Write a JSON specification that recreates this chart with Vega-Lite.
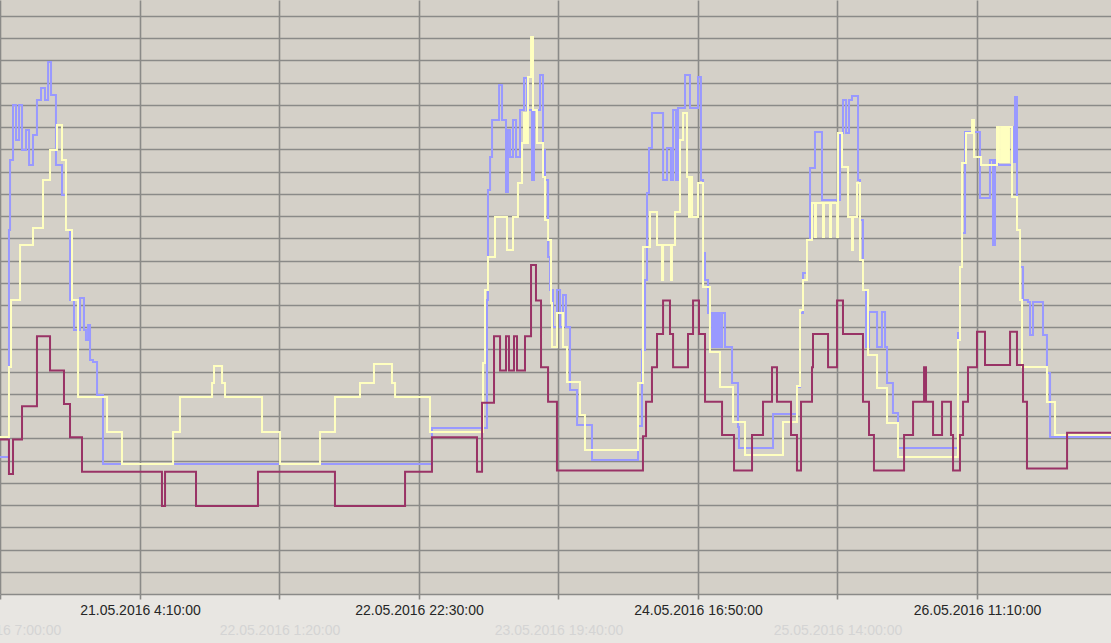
{
  "$schema": "https://vega.github.io/schema/vega-lite/v6.json",
  "width": 1111,
  "height": 594,
  "padding": {"left": 0, "top": 0, "right": 0, "bottom": 49},
  "autosize": {"type": "none"},
  "background": "#e8e6e2",
  "config": {"view": {"fill": "#d4d0c8", "stroke": null}},
  "datasets": {
    "maroon": [
      {"m": -5, "v": 6.95}, {"m": 77, "v": 5.4}, {"m": 114, "v": 6.95}, {"m": 196, "v": 8.45}, {"m": 332, "v": 11.6}, {"m": 451, "v": 10.05}, {"m": 578, "v": 8.55}, {"m": 633, "v": 7.05}, {"m": 742, "v": 5.5},
      {"m": 1470, "v": 3.96}, {"m": 1498, "v": 5.5}, {"m": 1780, "v": 3.96}, {"m": 2344, "v": 5.5}, {"m": 3045, "v": 3.96}, {"m": 3683, "v": 5.5}, {"m": 3928, "v": 7.05}, {"m": 4338, "v": 5.5}, {"m": 4384, "v": 8.6},
      {"m": 4493, "v": 11.6}, {"m": 4548, "v": 10.05}, {"m": 4602, "v": 11.6}, {"m": 4629, "v": 10.05}, {"m": 4675, "v": 11.6}, {"m": 4702, "v": 10.05}, {"m": 4775, "v": 11.6}, {"m": 4830, "v": 14.8}, {"m": 4875, "v": 13.2},
      {"m": 4921, "v": 10.2}, {"m": 4985, "v": 8.65}, {"m": 5066, "v": 5.55}, {"m": 5849, "v": 7.1}, {"m": 5877, "v": 8.65}, {"m": 5931, "v": 10.2}, {"m": 5977, "v": 11.7}, {"m": 6032, "v": 13.2}, {"m": 6095, "v": 11.7},
      {"m": 6123, "v": 10.2}, {"m": 6259, "v": 11.7}, {"m": 6305, "v": 13.2}, {"m": 6359, "v": 11.7}, {"m": 6414, "v": 8.65}, {"m": 6569, "v": 7.15}, {"m": 6678, "v": 5.55}, {"m": 6842, "v": 7.15}, {"m": 6942, "v": 8.65},
      {"m": 7024, "v": 10.2}, {"m": 7069, "v": 8.65}, {"m": 7197, "v": 7.15}, {"m": 7251, "v": 5.55}, {"m": 7288, "v": 8.65}, {"m": 7388, "v": 10.2}, {"m": 7397, "v": 11.7}, {"m": 7534, "v": 10.2}, {"m": 7616, "v": 13.2},
      {"m": 7670, "v": 11.7}, {"m": 7852, "v": 8.65}, {"m": 7907, "v": 7.15}, {"m": 7952, "v": 5.55}, {"m": 8226, "v": 7.15}, {"m": 8308, "v": 8.65}, {"m": 8408, "v": 10.2}, {"m": 8426, "v": 8.65}, {"m": 8490, "v": 7.15},
      {"m": 8572, "v": 8.65}, {"m": 8653, "v": 7.15}, {"m": 8672, "v": 5.55}, {"m": 8735, "v": 7.15}, {"m": 8763, "v": 8.65}, {"m": 8808, "v": 10.2}, {"m": 8890, "v": 11.8}, {"m": 8963, "v": 10.3}, {"m": 9191, "v": 11.8},
      {"m": 9254, "v": 10.3}, {"m": 9309, "v": 8.65}, {"m": 9345, "v": 5.65}, {"m": 9710, "v": 7.25}, {"m": 10120, "v": 7.25}
    ],
    "blue": [
      {"m": -5, "v": 6.16}, {"m": 77, "v": 16.37}, {"m": 87, "v": 19.52}, {"m": 114, "v": 22.0}, {"m": 141, "v": 20.42}, {"m": 169, "v": 22.0}, {"m": 196, "v": 19.97}, {"m": 232, "v": 20.87}, {"m": 260, "v": 19.3},
      {"m": 296, "v": 20.65}, {"m": 332, "v": 22.22}, {"m": 369, "v": 22.76}, {"m": 405, "v": 22.22}, {"m": 433, "v": 23.93}, {"m": 460, "v": 22.45}, {"m": 505, "v": 19.3}, {"m": 560, "v": 17.95}, {"m": 596, "v": 16.37},
      {"m": 633, "v": 13.23}, {"m": 669, "v": 11.88}, {"m": 724, "v": 13.32}, {"m": 760, "v": 11.88}, {"m": 778, "v": 11.43}, {"m": 797, "v": 12.1}, {"m": 815, "v": 10.53}, {"m": 842, "v": 10.44}, {"m": 879, "v": 8.95},
      {"m": 933, "v": 5.85}, {"m": 3928, "v": 7.47}, {"m": 4429, "v": 13.23}, {"m": 4438, "v": 18.17}, {"m": 4457, "v": 19.66}, {"m": 4475, "v": 21.32}, {"m": 4539, "v": 22.9}, {"m": 4566, "v": 21.32}, {"m": 4602, "v": 18.08},
      {"m": 4620, "v": 20.87}, {"m": 4639, "v": 19.66}, {"m": 4666, "v": 21.32}, {"m": 4693, "v": 19.66}, {"m": 4730, "v": 21.77}, {"m": 4766, "v": 23.21}, {"m": 4793, "v": 21.77}, {"m": 4839, "v": 18.62}, {"m": 4857, "v": 21.77},
      {"m": 4912, "v": 23.35}, {"m": 4939, "v": 19.97}, {"m": 4957, "v": 18.62}, {"m": 4985, "v": 15.16}, {"m": 5003, "v": 13.68}, {"m": 5030, "v": 12.01}, {"m": 5066, "v": 13.68}, {"m": 5094, "v": 12.01}, {"m": 5121, "v": 13.45},
      {"m": 5148, "v": 12.01}, {"m": 5185, "v": 9.18}, {"m": 5249, "v": 7.6}, {"m": 5385, "v": 6.03}, {"m": 5804, "v": 7.56}, {"m": 5840, "v": 10.98}, {"m": 5868, "v": 14.13}, {"m": 5886, "v": 18.04}, {"m": 5904, "v": 20.06},
      {"m": 5931, "v": 21.64}, {"m": 6032, "v": 18.62}, {"m": 6068, "v": 20.06}, {"m": 6104, "v": 18.62}, {"m": 6123, "v": 21.77}, {"m": 6150, "v": 18.62}, {"m": 6168, "v": 21.86}, {"m": 6232, "v": 23.35}, {"m": 6277, "v": 21.86},
      {"m": 6350, "v": 23.26}, {"m": 6377, "v": 18.62}, {"m": 6396, "v": 15.34}, {"m": 6414, "v": 14.13}, {"m": 6441, "v": 12.64}, {"m": 6478, "v": 11.11}, {"m": 6496, "v": 12.64}, {"m": 6514, "v": 11.11}, {"m": 6532, "v": 12.64},
      {"m": 6550, "v": 11.11}, {"m": 6569, "v": 12.64}, {"m": 6596, "v": 11.11}, {"m": 6660, "v": 9.49}, {"m": 6714, "v": 7.51}, {"m": 6723, "v": 6.57}, {"m": 7033, "v": 8.1}, {"m": 7251, "v": 9.31}, {"m": 7279, "v": 12.64},
      {"m": 7306, "v": 14.44}, {"m": 7342, "v": 15.92}, {"m": 7370, "v": 19.16}, {"m": 7415, "v": 20.78}, {"m": 7479, "v": 17.72}, {"m": 7643, "v": 20.74}, {"m": 7670, "v": 22.22}, {"m": 7698, "v": 20.74}, {"m": 7725, "v": 22.22},
      {"m": 7752, "v": 22.4}, {"m": 7807, "v": 18.62}, {"m": 7825, "v": 16.82}, {"m": 7852, "v": 13.68}, {"m": 7880, "v": 11.11}, {"m": 7907, "v": 12.69}, {"m": 7980, "v": 11.11}, {"m": 8025, "v": 12.69}, {"m": 8053, "v": 11.11},
      {"m": 8071, "v": 9.49}, {"m": 8125, "v": 8.14}, {"m": 8171, "v": 6.57}, {"m": 8717, "v": 11.74}, {"m": 8735, "v": 14.71}, {"m": 8754, "v": 16.24}, {"m": 8781, "v": 20.78}, {"m": 8917, "v": 17.81}, {"m": 9008, "v": 19.52},
      {"m": 9036, "v": 15.7}, {"m": 9054, "v": 19.52}, {"m": 9081, "v": 19.3}, {"m": 9209, "v": 21.01}, {"m": 9227, "v": 19.43}, {"m": 9236, "v": 22.36}, {"m": 9254, "v": 16.37}, {"m": 9282, "v": 14.71}, {"m": 9309, "v": 13.23},
      {"m": 9354, "v": 13.14}, {"m": 9373, "v": 11.65}, {"m": 9400, "v": 13.14}, {"m": 9491, "v": 11.65}, {"m": 9527, "v": 9.94}, {"m": 9555, "v": 7.06}, {"m": 10120, "v": 7.06}
    ],
    "yellow": [
      {"m": -5, "v": 7.06}, {"m": 77, "v": 10.21}, {"m": 96, "v": 13.23}, {"m": 178, "v": 15.7}, {"m": 296, "v": 16.46}, {"m": 387, "v": 18.62}, {"m": 451, "v": 19.97}, {"m": 514, "v": 21.1}, {"m": 560, "v": 19.52},
      {"m": 596, "v": 16.37}, {"m": 651, "v": 13.23}, {"m": 706, "v": 8.86}, {"m": 970, "v": 7.29}, {"m": 1106, "v": 5.85}, {"m": 1571, "v": 7.29}, {"m": 1634, "v": 8.86}, {"m": 1926, "v": 9.49}, {"m": 1944, "v": 10.26},
      {"m": 2017, "v": 9.49}, {"m": 2044, "v": 8.86}, {"m": 2381, "v": 7.29}, {"m": 2545, "v": 5.85}, {"m": 2909, "v": 7.29}, {"m": 3045, "v": 8.86}, {"m": 3273, "v": 9.49}, {"m": 3400, "v": 10.35}, {"m": 3564, "v": 9.49},
      {"m": 3592, "v": 8.86}, {"m": 3910, "v": 7.29}, {"m": 4393, "v": 10.39}, {"m": 4411, "v": 13.68}, {"m": 4438, "v": 15.16}, {"m": 4502, "v": 16.96}, {"m": 4611, "v": 15.47}, {"m": 4666, "v": 16.96}, {"m": 4711, "v": 18.49},
      {"m": 4748, "v": 20.29}, {"m": 4766, "v": 21.64}, {"m": 4784, "v": 20.29}, {"m": 4802, "v": 23.26}, {"m": 4830, "v": 25.06}, {"m": 4848, "v": 21.77}, {"m": 4884, "v": 20.29}, {"m": 4939, "v": 18.76}, {"m": 4957, "v": 16.82},
      {"m": 4985, "v": 15.92}, {"m": 5012, "v": 13.09}, {"m": 5021, "v": 11.11}, {"m": 5066, "v": 12.64}, {"m": 5121, "v": 11.11}, {"m": 5158, "v": 9.54}, {"m": 5276, "v": 8.05}, {"m": 5321, "v": 6.48}, {"m": 5804, "v": 9.49},
      {"m": 5849, "v": 15.61}, {"m": 5913, "v": 17.18}, {"m": 5977, "v": 15.7}, {"m": 6022, "v": 14.13}, {"m": 6032, "v": 15.7}, {"m": 6104, "v": 14.13}, {"m": 6113, "v": 15.7}, {"m": 6141, "v": 17.18}, {"m": 6186, "v": 20.42},
      {"m": 6214, "v": 21.64}, {"m": 6250, "v": 18.76}, {"m": 6268, "v": 16.96}, {"m": 6277, "v": 18.76}, {"m": 6296, "v": 16.96}, {"m": 6350, "v": 18.49}, {"m": 6396, "v": 13.81}, {"m": 6459, "v": 10.89}, {"m": 6550, "v": 9.31},
      {"m": 6669, "v": 7.74}, {"m": 6778, "v": 6.25}, {"m": 7124, "v": 7.74}, {"m": 7251, "v": 9.36}, {"m": 7279, "v": 12.78}, {"m": 7306, "v": 14.13}, {"m": 7342, "v": 15.92}, {"m": 7388, "v": 17.59}, {"m": 7415, "v": 16.06},
      {"m": 7424, "v": 17.59}, {"m": 7488, "v": 16.06}, {"m": 7497, "v": 17.59}, {"m": 7552, "v": 16.06}, {"m": 7561, "v": 17.59}, {"m": 7616, "v": 16.06}, {"m": 7625, "v": 20.74}, {"m": 7661, "v": 19.21}, {"m": 7716, "v": 16.96},
      {"m": 7752, "v": 15.47}, {"m": 7761, "v": 16.96}, {"m": 7798, "v": 18.49}, {"m": 7825, "v": 15.02}, {"m": 7852, "v": 13.68}, {"m": 7898, "v": 10.75}, {"m": 7980, "v": 9.27}, {"m": 8071, "v": 7.69}, {"m": 8171, "v": 6.16},
      {"m": 8717, "v": 11.43}, {"m": 8735, "v": 14.71}, {"m": 8754, "v": 19.39}, {"m": 8790, "v": 20.74}, {"m": 8845, "v": 21.32}, {"m": 8863, "v": 19.66}, {"m": 8927, "v": 19.3}, {"m": 9072, "v": 21.01}, {"m": 9090, "v": 19.43},
      {"m": 9109, "v": 21.01}, {"m": 9127, "v": 19.43}, {"m": 9145, "v": 21.01}, {"m": 9163, "v": 19.43}, {"m": 9181, "v": 21.01}, {"m": 9209, "v": 17.86}, {"m": 9254, "v": 16.37}, {"m": 9282, "v": 13.23}, {"m": 9300, "v": 10.21},
      {"m": 9527, "v": 8.64}, {"m": 9600, "v": 7.15}, {"m": 10120, "v": 7.15}
    ]
  },
  "encoding": {
    "x": {
      "field": "m", "type": "quantitative",
      "scale": {"domain": [-4.5, 10110], "nice": false, "zero": false},
      "axis": {
        "title": null, "orient": "bottom",
        "values": [0, 1270, 2540, 3810, 5080, 6350, 7620, 8890],
        "labelExpr": "round(datum.value/1270) % 2 == 1 ? timeFormat(time(datetime(2016,4,20,7,0,0)) + datum.value*60000, '%d.%m.%Y %-H:%M:%S') : ['', timeFormat(time(datetime(2016,4,20,7,0,0)) + datum.value*60000, '%d.%m.%Y %-H:%M:%S')]",
        "labelColor": {"condition": {"test": "round(datum.value/1270) % 2 == 0", "value": "#d4d4d4"}, "value": "#262626"},
        "labelFont": "Liberation Sans", "labelFontSize": 14, "labelLineHeight": 20,
        "labelPadding": 4, "labelOverlap": false, "labelBound": false, "labelFlush": false,
        "domain": false, "ticks": true, "tickSize": 5, "tickColor": "#8a8a88", "tickWidth": 1.6,
        "grid": true, "gridColor": "#8a8a88", "gridWidth": 1.6, "gridOpacity": 1
      }
    },
    "y": {
      "field": "v", "type": "quantitative",
      "scale": {"domain": [0, 26.72], "nice": false, "zero": false},
      "axis": {
        "title": null, "labels": false, "ticks": false, "domain": false,
        "values": [0,1,2,3,4,5,6,7,8,9,10,11,12,13,14,15,16,17,18,19,20,21,22,23,24,25,26],
        "grid": true, "gridColor": "#8a8a88", "gridWidth": 1.6, "gridOpacity": 1
      }
    }
  },
  "layer": [
    {"data": {"name": "blue"}, "mark": {"type": "line", "interpolate": "step-after", "color": "#9999ff", "strokeWidth": 2, "clip": true}},
    {"data": {"name": "yellow"}, "mark": {"type": "line", "interpolate": "step-after", "color": "#ffffc0", "strokeWidth": 2, "clip": true}},
    {"data": {"name": "maroon"}, "mark": {"type": "line", "interpolate": "step-after", "color": "#993366", "strokeWidth": 2, "clip": true}}
  ]
}
